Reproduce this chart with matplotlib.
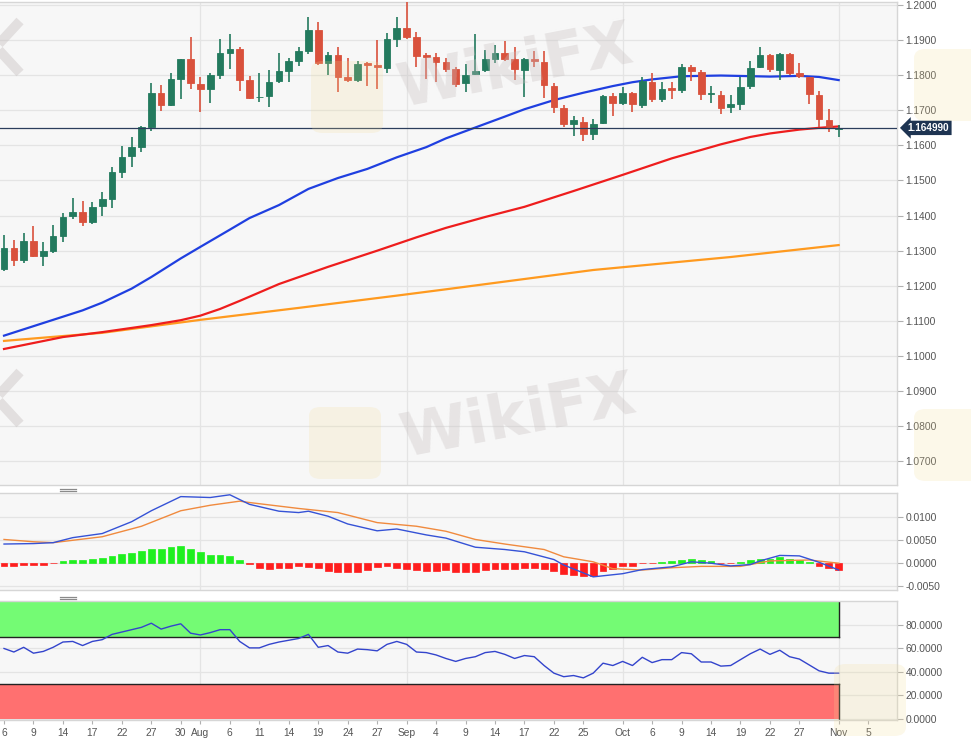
import matplotlib
matplotlib.use('Agg')
import matplotlib.pyplot as plt
from matplotlib.patches import Rectangle, FancyBboxPatch
from matplotlib.lines import Line2D
import matplotlib.transforms as mtransforms

plt.rcParams['font.family'] = ['Liberation Sans', 'DejaVu Sans']

# ---------------- data ----------------
opens = [1.1247, 1.1307, 1.1274, 1.1329, 1.1285, 1.1300, 1.1343, 1.1399, 1.1409, 1.1383,
         1.1427, 1.1446, 1.1525, 1.1570, 1.1595, 1.1653, 1.1750, 1.1715, 1.1790, 1.1845,
         1.1775, 1.1761, 1.1800, 1.1862, 1.1876, 1.1786, 1.1737, 1.1741, 1.1783, 1.1812,
         1.1840, 1.1869, 1.1929, 1.1836, 1.1857, 1.1794, 1.1786, 1.1834, 1.1828, 1.1820,
         1.1902, 1.1934, 1.1910, 1.1857, 1.1851, 1.1837, 1.1817, 1.1777, 1.1802, 1.1815,
         1.1846, 1.1864, 1.1845, 1.1815, 1.1846, 1.1837, 1.1769, 1.1706, 1.1660, 1.1666,
         1.1632, 1.1665, 1.1741, 1.1720, 1.1748, 1.1715, 1.1782, 1.1732, 1.1763, 1.1758,
         1.1824, 1.1810, 1.1745, 1.1744, 1.1708, 1.1718, 1.1769, 1.1822, 1.1858, 1.1815,
         1.1859, 1.1807, 1.1794, 1.1744, 1.1672, 1.1646]
highs = [1.1345, 1.1331, 1.1350, 1.1369, 1.1326, 1.1373, 1.1408, 1.1449, 1.1442, 1.1440,
         1.1466, 1.1539, 1.1599, 1.1625, 1.1655, 1.1779, 1.1772, 1.1805, 1.1846, 1.1908,
         1.1794, 1.1805, 1.1902, 1.1916, 1.1881, 1.1798, 1.1805, 1.1815, 1.1862, 1.1850,
         1.1881, 1.1967, 1.1952, 1.1867, 1.1881, 1.1848, 1.1840, 1.1838, 1.1900, 1.1919,
         1.1965, 1.2010, 1.1924, 1.1862, 1.1862, 1.1848, 1.1824, 1.1831, 1.1917, 1.1872,
         1.1886, 1.1897, 1.1879, 1.1848, 1.1870, 1.1870, 1.1777, 1.1715, 1.1684, 1.1682,
         1.1674, 1.1744, 1.1748, 1.1767, 1.1753, 1.1796, 1.1805, 1.1782, 1.1782, 1.1831,
         1.1829, 1.1815, 1.1769, 1.1755, 1.1744, 1.1796, 1.1839, 1.1879, 1.1860, 1.1862,
         1.1862, 1.1836, 1.1796, 1.1755, 1.1703, 1.1658]
lows = [1.1243, 1.1257, 1.1264, 1.1281, 1.1255, 1.1293, 1.1326, 1.1390, 1.1370, 1.1376,
        1.1400, 1.1423, 1.1506, 1.1539, 1.1580, 1.1642, 1.1699, 1.1712, 1.1731, 1.1760,
        1.1696, 1.1722, 1.1790, 1.1817, 1.1756, 1.1732, 1.1725, 1.1710, 1.1779, 1.1782,
        1.1826, 1.1860, 1.1829, 1.1801, 1.1753, 1.1782, 1.1782, 1.1769, 1.1760, 1.1807,
        1.1881, 1.1902, 1.1822, 1.1788, 1.1782, 1.1810, 1.1765, 1.1751, 1.1801, 1.1810,
        1.1834, 1.1839, 1.1786, 1.1739, 1.1824, 1.1734, 1.1691, 1.1652, 1.1627, 1.1613,
        1.1615, 1.1661, 1.1684, 1.1715, 1.1696, 1.1706, 1.1725, 1.1723, 1.1731, 1.1750,
        1.1784, 1.1729, 1.1720, 1.1690, 1.1693, 1.1701, 1.1760, 1.1820, 1.1810, 1.1786,
        1.1800, 1.1791, 1.1718, 1.1653, 1.1639, 1.1623]
closes = [1.1307, 1.1274, 1.1329, 1.1285, 1.1299, 1.1342, 1.1397, 1.1409, 1.1383, 1.1425,
          1.1446, 1.1525, 1.1568, 1.1595, 1.1653, 1.1750, 1.1715, 1.1788, 1.1845, 1.1777,
          1.1761, 1.1800, 1.1862, 1.1876, 1.1786, 1.1736, 1.1738, 1.1782, 1.1812, 1.1840,
          1.1869, 1.1929, 1.1836, 1.1857, 1.1794, 1.1786, 1.1832, 1.1830, 1.1822, 1.1902,
          1.1934, 1.1910, 1.1855, 1.1853, 1.1837, 1.1817, 1.1775, 1.1801, 1.1813, 1.1845,
          1.1864, 1.1845, 1.1817, 1.1845, 1.1839, 1.1772, 1.1708, 1.1660, 1.1671, 1.1632,
          1.1660, 1.1741, 1.1720, 1.1748, 1.1718, 1.1784, 1.1732, 1.1760, 1.1759, 1.1824,
          1.1812, 1.1745, 1.1749, 1.1706, 1.1717, 1.1767, 1.1820, 1.1858, 1.1817, 1.1859,
          1.1807, 1.1798, 1.1746, 1.1674, 1.1649, 1.16499]
last_price = 1.16499

# moving averages (day index, value)
sma50_idx = [0, 3, 5, 8, 10, 13, 15, 18, 20, 23, 25, 28, 31, 34, 37, 40, 43, 45, 48, 51, 53,
             56, 59, 62, 64, 66, 69, 73, 78, 81, 83, 85]
sma50_val = [1.1058, 1.1085, 1.1103, 1.1130, 1.1152, 1.1192, 1.1225, 1.1278, 1.1311, 1.1360,
             1.1393, 1.1430, 1.1476, 1.1507, 1.1533, 1.1566, 1.1595, 1.1620, 1.1651, 1.1682,
             1.1703, 1.1729, 1.1750, 1.1769, 1.1780, 1.1788, 1.1797, 1.1799, 1.1796, 1.1798,
             1.1795, 1.1786]
sma100_idx = [0, 6, 10, 15, 18, 20, 22, 24, 28, 33, 38, 42, 45, 49, 53, 58, 63, 68, 71, 73,
              76, 78, 81, 83, 85]
sma100_val = [1.1020, 1.1054, 1.1068, 1.1088, 1.1102, 1.1115, 1.1134, 1.1157, 1.1205, 1.1254,
              1.1300, 1.1338, 1.1365, 1.1396, 1.1425, 1.1470, 1.1516, 1.1563, 1.1587, 1.1603,
              1.1624, 1.1634, 1.1645, 1.1650, 1.1654]
sma200_idx = [0, 10, 20, 30, 40, 45, 60, 74, 85]
sma200_val = [1.1043, 1.1066, 1.1103, 1.1137, 1.1172, 1.1190, 1.1245, 1.1282, 1.1316]

# MACD
macd_hist = [-0.0008, -0.0008, -0.0004, -0.0004, -0.0004, -0.0001, 0.0004, 0.0007, 0.0007, 0.0008,
             0.0010, 0.0015, 0.0019, 0.0022, 0.0026, 0.0031, 0.0031, 0.0034, 0.0036, 0.0030,
             0.0023, 0.0018, 0.0017, 0.0015, 0.0007, -0.0002, -0.0012, -0.0014, -0.0012, -0.0011,
             -0.0007, -0.0010, -0.0011, -0.0019, -0.0020, -0.0020, -0.0020, -0.0015, -0.0010, -0.0008,
             -0.0011, -0.0013, -0.0015, -0.0018, -0.0018, -0.0017, -0.0021, -0.0021, -0.0020, -0.0017,
             -0.0014, -0.0014, -0.0014, -0.0012, -0.0012, -0.0014, -0.0018, -0.0024, -0.0027, -0.0029,
             -0.0029, -0.0019, -0.0014, -0.0008, -0.0007, -0.0001, -0.0001, 0.0002, 0.0004, 0.0007,
             0.0009, 0.0007, 0.0004, -0.0001, -0.0001, 0.0001, 0.0005, 0.0009, 0.0009, 0.0012,
             0.0009, 0.0007, 0.0001, -0.0007, -0.0011, -0.0017]
macd_idx = [0, 3, 5, 7, 10, 13, 15, 18, 21, 23, 25, 28, 30, 31, 33, 35, 38, 40, 43, 45, 48, 51,
            53, 56, 57, 60, 63, 65, 68, 70, 72, 74, 76, 77, 79, 81, 83, 85]
macd_val = [0.0041, 0.0042, 0.0044, 0.0055, 0.0064, 0.0090, 0.0114, 0.0145, 0.0143, 0.0149,
            0.0128, 0.0113, 0.0110, 0.0113, 0.0102, 0.0085, 0.0070, 0.0074, 0.0061, 0.0054,
            0.0034, 0.0029, 0.0024, 0.0007, -0.0005, -0.0031, -0.0024, -0.0015, -0.0009, 0.0002,
            -0.0001, -0.0007, -0.0004, 0.0004, 0.0016, 0.0015, 0.0001, -0.0016]
signal_idx = [0, 3, 5, 10, 14, 18, 21, 24, 25, 30, 34, 38, 42, 45, 48, 51, 55, 57, 60, 62, 65,
              68, 71, 75, 78, 82, 85]
signal_val = [0.0051, 0.0046, 0.0044, 0.0057, 0.0080, 0.0114, 0.0126, 0.0135, 0.0132, 0.0119,
              0.0110, 0.0088, 0.0080, 0.0069, 0.0051, 0.0041, 0.0029, 0.0013, 0.0002, -0.0013,
              -0.0016, -0.0011, -0.0008, -0.0008, 0.0004, 0.0006, -0.0001]

# RSI
rsi = [60, 57, 61, 56, 57.5, 61, 65.5, 66, 62.5, 66,
       67.5, 72, 74, 76, 78, 81.5, 76.5, 79, 81, 73,
       71.5, 73.5, 76, 76, 66, 60.5, 60.5, 63.5, 65.5, 67,
       68.5, 72, 61, 62.5, 57, 56, 59.5, 59, 58, 63.5,
       66, 63.5, 57, 56.5, 54.5, 51.5, 49, 51.5, 53, 56.5,
       57.5, 55, 51.5, 54, 53, 45.5, 39, 36, 37, 35,
       39, 47.5, 45.5, 49, 45.5, 52.5, 48, 50.5, 50.5, 56.5,
       55.5, 48.5, 48.5, 45, 45.5, 50.5, 55.5, 59.5, 55, 58.5,
       53, 51, 46, 41, 39, 39]

# axes labels
xtick_pos = [0, 3, 6, 9, 12, 15, 18, 20, 23, 26, 29, 32, 35, 38, 41, 44, 47, 50, 53, 56, 59,
             63, 66, 69, 72, 75, 78, 81, 85, 88]
xtick_lab = ['6', '9', '14', '17', '22', '27', '30', 'Aug', '6', '11', '14', '19', '24', '27',
             'Sep', '4', '9', '14', '17', '22', '25', 'Oct', '6', '9', '14', '19', '22', '27',
             'Nov', '5']
month_pos = [20, 41, 63, 85]
price_ticks = [1.07, 1.08, 1.09, 1.10, 1.11, 1.12, 1.13, 1.14, 1.15, 1.16, 1.17, 1.18, 1.19, 1.20]
macd_ticks = [-0.005, 0.0, 0.005, 0.010]
rsi_ticks = [0, 20, 40, 60, 80]

# ---------------- styling ----------------
W, H = 971, 750
BG = '#f7f7f7'
GRID = '#e4e4e4'
SPINE = '#d6d6d6'
TXT = '#555555'
GREEN = '#237a5e'
RED = '#d9513c'
FS = 7.4

fig = plt.figure(figsize=(W / 100, H / 100), dpi=100)
fig.patch.set_facecolor('white')

def make_ax(top, bottom):
    ax = fig.add_axes([0, 1 - bottom / H, 897 / W, (bottom - top) / H])
    ax.set_facecolor(BG)
    ax.spines['left'].set_visible(False)
    for s in ['top', 'right', 'bottom']:
        ax.spines[s].set_color(SPINE)
        ax.spines[s].set_linewidth(1.0)
    ax.yaxis.tick_right()
    ax.tick_params(axis='y', labelsize=FS, colors=TXT, length=4, width=0.8, pad=2)
    ax.tick_params(axis='y', which='both', color='#b0b0b0')
    ax.set_xlim(-0.41, 90.94)
    ax.grid(axis='y', color=GRID, linewidth=0.9)
    ax.set_axisbelow(True)
    for m in month_pos:
        ax.axvline(m, color=GRID, linewidth=0.9, zorder=0.5)
    return ax

ax1 = make_ax(2, 485)
ax2 = make_ax(493, 590)
ax3 = make_ax(601, 720)

# ---- main price panel ----
n = len(opens)
xs = list(range(n))
cols = [GREEN if c >= o else RED for o, c in zip(opens, closes)]
ax1.vlines(xs, lows, highs, colors=cols, linewidth=1.2, zorder=3)
bottoms = [min(o, c) for o, c in zip(opens, closes)]
heights = [abs(c - o) for o, c in zip(opens, closes)]
ax1.bar(xs, heights, bottom=bottoms, width=0.68, color=cols, edgecolor=cols,
        linewidth=0.6, zorder=4)
ax1.plot(sma200_idx, sma200_val, color='#ff9a1f', linewidth=1.6, zorder=2)
ax1.plot(sma100_idx, sma100_val, color='#ee1d1d', linewidth=1.6, zorder=2)
ax1.plot(sma50_idx, sma50_val, color='#1f3fe0', linewidth=1.6, zorder=2)
ax1.axhline(last_price, color='#2b3d5c', linewidth=0.9, zorder=5)
ax1.set_ylim(1.06325, 1.20085)
ax1.set_yticks(price_ticks)
ax1.set_yticklabels([f'{v:.4f}' for v in price_ticks])
ax1.tick_params(axis='x', bottom=False, labelbottom=False)
tr = mtransforms.blended_transform_factory(ax1.transAxes, ax1.transData)
ax1.text(1.012, last_price, f'{last_price:.6f}', transform=tr, ha='left', va='center',
         color='white', fontsize=7.2, fontweight='bold', zorder=10,
         bbox=dict(boxstyle='larrow,pad=0.22', fc='#1e3452', ec='none'))

# ---- MACD panel ----
hcols = ['#1ff01f' if v > 0 else '#ff1e1e' for v in macd_hist]
ax2.bar(xs, macd_hist, width=0.7, color=hcols, edgecolor=hcols, linewidth=0.5, zorder=2)
ax2.plot(signal_idx, signal_val, color='#f08a3e', linewidth=1.0, zorder=3)
ax2.plot(macd_idx, macd_val, color='#3552d6', linewidth=1.0, zorder=3)
ax2.set_ylim(-0.00598, 0.01529)
ax2.set_yticks(macd_ticks)
ax2.set_yticklabels([f'{v:.4f}' for v in macd_ticks])
ax2.tick_params(axis='x', bottom=False, labelbottom=False)

# ---- RSI panel ----
x0 = -0.41
ax3.add_patch(Rectangle((x0, 70), 85 - x0, 30, facecolor='#74fb74', edgecolor='none', zorder=1))
ax3.add_patch(Rectangle((x0, 0), 85 - x0, 30, facecolor='#ff7070', edgecolor='none', zorder=1))
ax3.plot([x0, 85], [70, 70], color='#222222', linewidth=1.0, zorder=2)
ax3.plot([85, 85], [70, 100], color='#222222', linewidth=1.0, zorder=2)
ax3.plot([x0, 85], [30, 30], color='#222222', linewidth=1.0, zorder=2)
ax3.plot([85, 85], [0, 30], color='#222222', linewidth=1.0, zorder=2)
ax3.plot(xs, rsi, color='#3344cc', linewidth=1.0, zorder=3)
ax3.set_ylim(-0.85, 100.4)
ax3.set_yticks(rsi_ticks)
ax3.set_yticklabels([f'{v:.4f}' for v in rsi_ticks])
ax3.set_xticks(xtick_pos)
ax3.set_xticklabels(xtick_lab)
ax3.tick_params(axis='x', labelsize=FS, colors=TXT, length=3, width=0.8, pad=3)
ax3.tick_params(axis='x', color='#b0b0b0')

# ---- panel drag handles ----
for yy in (488.5, 596.5):
    for dy in (0, 2.2):
        fig.add_artist(Line2D([60 / W, 76 / W], [1 - (yy + dy) / H] * 2,
                              color='#8a8a8a', linewidth=0.9))

# ---- watermarks ----
wm_col = '#c9c2c2'
for cx, cy in ((515, 68), (518, 418)):
    fig.text(cx / W, 1 - cy / H, 'WikiFX', fontsize=44, fontweight='bold', color=wm_col,
             alpha=0.35, rotation=11, ha='center', va='center', family='DejaVu Sans', zorder=20)
for cx, cy in ((347, 97), (345, 443), (950, 85), (950, 445), (870, 700)):
    fig.add_artist(FancyBboxPatch(((cx - 36) / W, 1 - (cy + 36) / H), 72 / W, 72 / H,
                                  boxstyle='round,pad=0,rounding_size=0.012',
                                  facecolor='#f3dc94', edgecolor='none', alpha=0.2, zorder=19))
# partial letter strokes at the left edge (part of a neighbouring watermark tile)
for cy in (47, 398):
    for ey in (-26, 26):
        fig.add_artist(Line2D([-4 / W, 20 / W], [1 - cy / H, 1 - (cy + ey) / H],
                              color=wm_col, alpha=0.45, linewidth=7, solid_capstyle='butt',
                              zorder=20))

fig.savefig('out.png', dpi=100)
